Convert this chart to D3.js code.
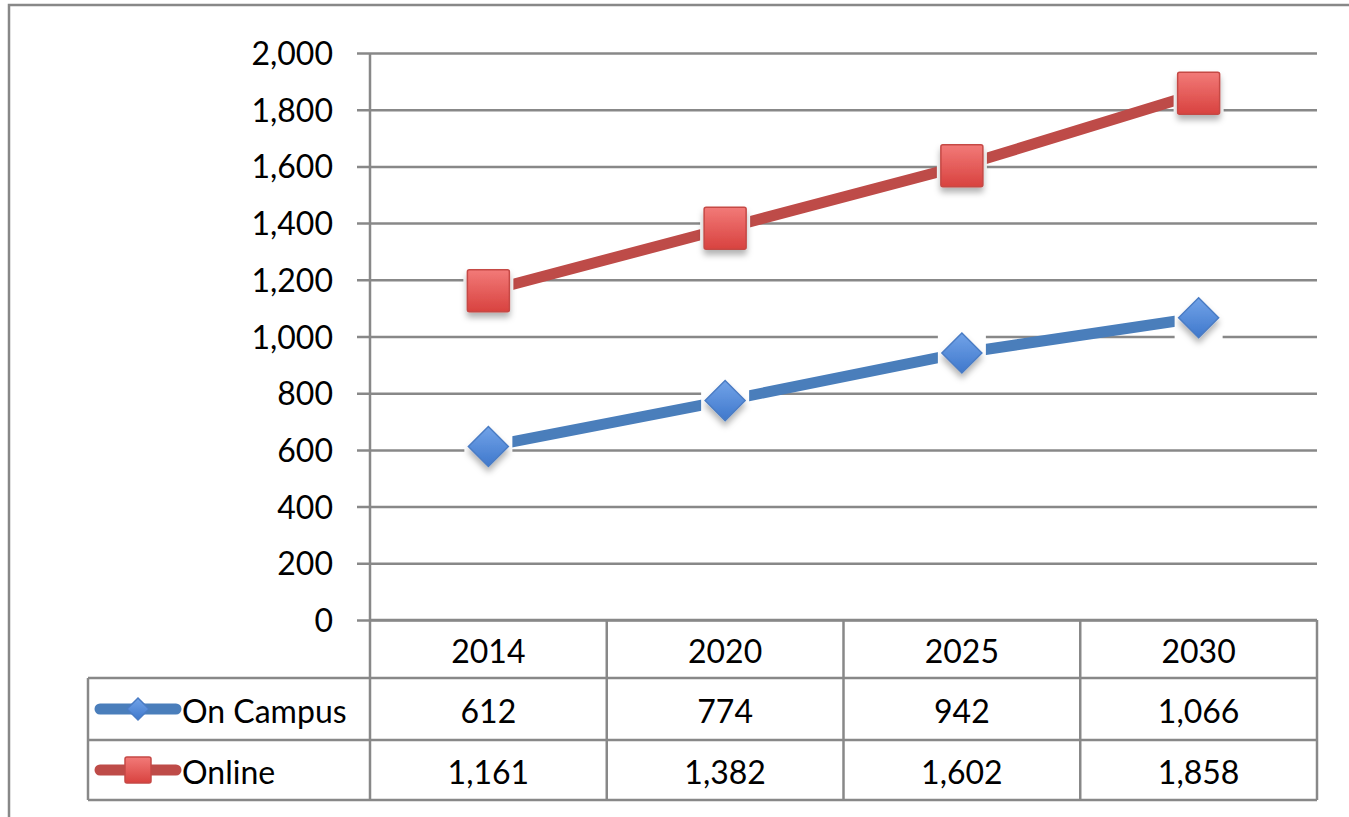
<!doctype html>
<html>
<head>
<script src="https://cdnjs.cloudflare.com/ajax/libs/d3/7.8.5/d3.min.js"></script>
<style>
  body { margin: 0; background: #fff; }
  text { font-family: Lato, "Open Sans", sans-serif; fill: #000; }
</style>
</head>
<body>
<svg width="1349" height="817"></svg>
<script>
var years = ["2014", "2020", "2025", "2030"];
var seriesNames = ["On Campus", "Online"];
var onCampus = [612, 774, 942, 1066];
var online = [1161, 1382, 1602, 1858];
var yTicks = [0, 200, 400, 600, 800, 1000, 1200, 1400, 1600, 1800, 2000];

var svg = d3.select("svg");
var fmt = d3.format(",");
var plotLeft = 370, plotRight = 1317, plotTop = 53, plotBottom = 620;
var rowH = [620, 678, 740, 800];
var tableLeft = 88;
var fontSize = 32;
var grey = "#888";

// outer chart frame
svg.append("rect").attr("x", 9).attr("y", 5).attr("width", 1400).attr("height", 900)
  .attr("fill", "none").attr("stroke", grey).attr("stroke-width", 2.5);

var defs = svg.append("defs");
var sq = defs.append("linearGradient").attr("id", "gSq").attr("x1", 0).attr("y1", 0).attr("x2", 0).attr("y2", 1);
sq.append("stop").attr("offset", "0%").attr("stop-color", "#F27A78");
sq.append("stop").attr("offset", "100%").attr("stop-color", "#D8423F");
var dm = defs.append("linearGradient").attr("id", "gDm").attr("x1", 0).attr("y1", 0).attr("x2", 0).attr("y2", 1);
dm.append("stop").attr("offset", "0%").attr("stop-color", "#72A3E8");
dm.append("stop").attr("offset", "100%").attr("stop-color", "#3F78CC");
var sh = defs.append("filter").attr("id", "shadow").attr("x", "-50%").attr("y", "-50%").attr("width", "200%").attr("height", "200%");
sh.append("feDropShadow").attr("dx", 0).attr("dy", 5).attr("stdDeviation", 3)
  .attr("flood-color", "#000").attr("flood-opacity", 0.3);

var x = d3.scaleBand().domain(years).range([plotLeft, plotRight]);
var y = d3.scaleLinear().domain([0, 2000]).range([plotBottom, plotTop]);

// gridlines + ticks
var yAxis = svg.append("g").attr("transform", "translate(357,0)")
  .call(d3.axisLeft(y).tickValues(yTicks).tickFormat(fmt).tickSize(-(plotRight - 357)).tickPadding(24));
yAxis.select(".domain").remove();
yAxis.selectAll("line").attr("stroke", grey).attr("stroke-width", 2.5);
yAxis.selectAll("text").attr("font-size", fontSize).attr("dy", "0.36em")
  .style("font-family", "Lato, 'Open Sans', sans-serif").attr("fill", "#000");

// vertical axis line (continues into table)
svg.append("line").attr("x1", plotLeft).attr("x2", plotLeft).attr("y1", plotTop).attr("y2", rowH[3])
  .attr("stroke", grey).attr("stroke-width", 2.5);

// data table grid
var tg = svg.append("g").attr("stroke", grey).attr("stroke-width", 2.5).attr("fill", "none");
tg.append("line").attr("x1", plotLeft).attr("x2", plotRight).attr("y1", rowH[0]).attr("y2", rowH[0]);
tg.append("line").attr("x1", tableLeft).attr("x2", plotRight).attr("y1", rowH[1]).attr("y2", rowH[1]);
tg.append("line").attr("x1", tableLeft).attr("x2", plotRight).attr("y1", rowH[2]).attr("y2", rowH[2]);
tg.append("line").attr("x1", tableLeft).attr("x2", plotRight).attr("y1", rowH[3]).attr("y2", rowH[3]);
tg.append("line").attr("x1", tableLeft).attr("x2", tableLeft).attr("y1", rowH[1]).attr("y2", rowH[3]);
years.forEach(function (yr) {
  tg.append("line").attr("x1", x(yr) + x.bandwidth()).attr("x2", x(yr) + x.bandwidth())
    .attr("y1", rowH[0]).attr("y2", rowH[3]);
});

// header years
svg.selectAll(".yr").data(years).enter().append("text")
  .attr("x", d => x(d) + x.bandwidth() / 2).attr("y", (rowH[0] + rowH[1]) / 2 + 2)
  .attr("dy", "0.36em").attr("text-anchor", "middle").attr("font-size", fontSize).text(d => d);

var series = [
  { name: seriesNames[0], values: onCampus, line: "#4A7EBB", shape: "diamond", size: 40 },
  { name: seriesNames[1], values: online, line: "#BE4B48", shape: "square", size: 42 }
];

function marker(g, s, cx, cy, size) {
  if (s.shape === "square") {
    g.append("rect").attr("x", cx - size / 2).attr("y", cy - size / 2)
      .attr("width", size).attr("height", size).attr("rx", 2)
      .attr("fill", "url(#gSq)").attr("stroke", "#C54845").attr("stroke-width", 1.5);
  } else {
    var r = size / 2;
    g.append("path").attr("d", "M" + cx + "," + (cy - r) + "L" + (cx + r) + "," + cy + "L" + cx + "," + (cy + r) + "L" + (cx - r) + "," + cy + "Z")
      .attr("fill", "url(#gDm)").attr("stroke", "#4A7CC4").attr("stroke-width", 1.5);
  }
}

var line = d3.line().x((d, i) => x(years[i]) + x.bandwidth() / 2).y(d => y(d));

series.forEach(function (s, k) {
  svg.append("path").datum(s.values).attr("d", line)
    .attr("fill", "none").attr("stroke", s.line).attr("stroke-width", 11);
  // white halo box behind each marker
  svg.selectAll(".halo" + k).data(s.values).enter().append("rect")
    .attr("x", (d, i) => x(years[i]) + x.bandwidth() / 2 - s.size / 2 - 4)
    .attr("y", d => y(d) - s.size / 2 - 4)
    .attr("width", s.size + 8).attr("height", s.size + 12).attr("fill", "#fff");
  var mg = svg.append("g").attr("filter", "url(#shadow)");
  s.values.forEach(function (v, i) {
    marker(mg, s, x(years[i]) + x.bandwidth() / 2, y(v), s.size);
  });

  // table row
  var cy = (rowH[k + 1] + rowH[k + 2]) / 2;
  svg.append("line").attr("x1", 100).attr("x2", 176).attr("y1", cy).attr("y2", cy)
    .attr("stroke", s.line).attr("stroke-width", 11).attr("stroke-linecap", "round");
  marker(svg.append("g"), s, 138, cy, s.shape === "square" ? 26 : 22);
  svg.append("text").attr("x", 182).attr("y", cy + 2).attr("dy", "0.36em")
    .attr("font-size", fontSize).text(s.name);
  svg.selectAll(".v" + k).data(s.values).enter().append("text")
    .attr("x", (d, i) => x(years[i]) + x.bandwidth() / 2).attr("y", cy + 2)
    .attr("dy", "0.36em").attr("text-anchor", "middle").attr("font-size", fontSize)
    .text(d => fmt(d));
});
</script>
</body>
</html>
